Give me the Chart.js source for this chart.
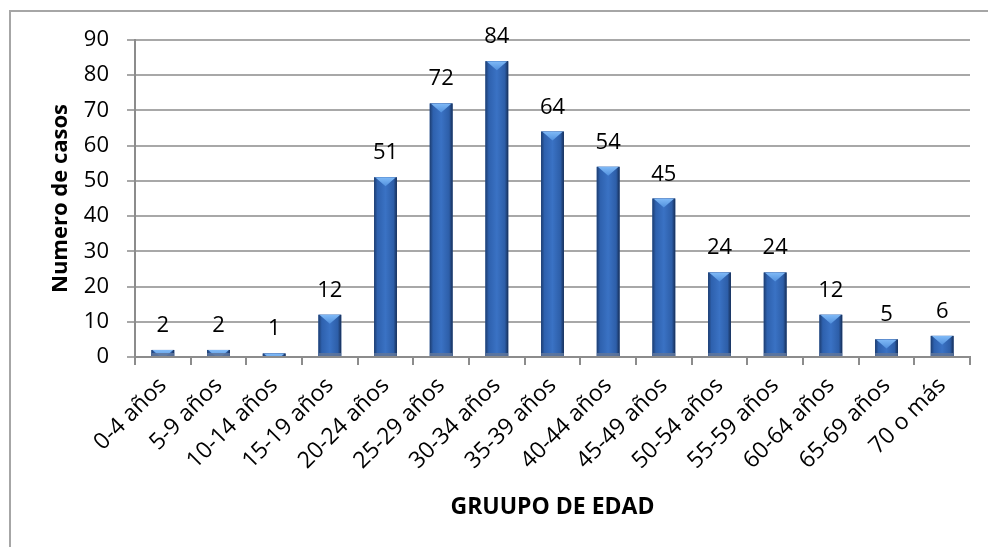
<!DOCTYPE html>
<html>
<head>
<meta charset="utf-8">
<script src="https://cdn.jsdelivr.net/npm/chart.js@4.4.1/dist/chart.umd.min.js"></script>
<style>
  html, body { margin: 0; padding: 0; background: #fff; }
  #wrap { width: 988px; height: 547px; }
</style>
</head>
<body>
<div id="wrap"><canvas id="edadChart" width="988" height="547"></canvas></div>
<script>
// Datos
const grupos = ["0-4 años", "5-9 años", "10-14 años", "15-19 años", "20-24 años", "25-29 años",
  "30-34 años", "35-39 años", "40-44 años", "45-49 años", "50-54 años", "55-59 años",
  "60-64 años", "65-69 años", "70 o más"];
const casos = [2, 2, 1, 12, 51, 72, 84, 64, 54, 45, 24, 24, 12, 5, 6];
const ejeYMin = 0;
const ejeYMax = 90;
const ejeYPaso = 10;

const fuente = "'Open Sans', 'DejaVu Sans', sans-serif";

// Marco exterior
const marcoPlugin = {
  id: "marco",
  beforeDraw(chart) {
    const ctx = chart.ctx;
    ctx.save();
    ctx.strokeStyle = "#a6a6a6";
    ctx.lineWidth = 2;
    ctx.strokeRect(10, 11, 1000, 600);
    ctx.restore();
  }
};

// Barras con bisel y etiquetas de valor
const biselPlugin = {
  id: "bisel",
  afterDatasetsDraw(chart) {
    const ctx = chart.ctx;
    const meta = chart.getDatasetMeta(0);
    meta.data.forEach((bar, i) => {
      const x0 = bar.x - bar.width / 2;
      const x1 = bar.x + bar.width / 2;
      const top = bar.y;
      const bot = bar.base;
      const h = bot - top;
      ctx.save();
      const g = ctx.createLinearGradient(x0, 0, x1, 0);
      g.addColorStop(0, "#1d3d70");
      g.addColorStop(0.15, "#2e61ae");
      g.addColorStop(0.5, "#3a72c4");
      g.addColorStop(0.85, "#2d5ea8");
      g.addColorStop(1, "#162e57");
      ctx.fillStyle = g;
      ctx.fillRect(x0, top, x1 - x0, h);

      ctx.beginPath();
      ctx.rect(x0, top, x1 - x0, h);
      ctx.clip();
      // bisel superior
      const b = 9;
      const gt = ctx.createLinearGradient(0, top, 0, top + b);
      gt.addColorStop(0, "#80baf7");
      gt.addColorStop(1, "#5190dd");
      ctx.fillStyle = gt;
      ctx.beginPath();
      ctx.moveTo(x0 + 1, top);
      ctx.lineTo(x1 - 1, top);
      ctx.lineTo(bar.x, top + b);
      ctx.closePath();
      ctx.fill();
      // borde inferior
      if (h > 6) {
        ctx.fillStyle = "rgba(95,118,155,0.85)";
        ctx.fillRect(x0, bot - 3, x1 - x0, 3);
      }
      ctx.restore();

      // etiqueta
      ctx.save();
      ctx.font = "22px " + fuente;
      ctx.fillStyle = "#000";
      ctx.textAlign = "center";
      ctx.textBaseline = "alphabetic";
      ctx.fillText(String(casos[i]), bar.x, top - 18);
      ctx.restore();
    });
  }
};

new Chart(document.getElementById("edadChart"), {
  type: "bar",
  data: {
    labels: grupos,
    datasets: [
      {
        data: casos,
        backgroundColor: "#2f63ae",
        borderWidth: 0,
        barPercentage: 0.41,
        categoryPercentage: 1.0
      }
    ]
  },
  options: {
    responsive: false,
    animation: false,
    layout: { padding: { left: 0, top: 40, right: 18, bottom: 0 } },
    plugins: {
      legend: { display: false },
      tooltip: { enabled: false }
    },
    scales: {
      x: {
        grid: {
          display: true,
          drawOnChartArea: false,
          drawTicks: true,
          tickLength: 8,
          color: "#8c8c8c",
          lineWidth: 2
        },
        border: { display: true, color: "#8c8c8c", width: 2 },
        ticks: {
          color: "#000",
          font: { family: fuente, size: 23 },
          maxRotation: 45,
          minRotation: 45,
          autoSkip: false,
          padding: 7
        },
        title: {
          display: true,
          text: "GRUUPO DE EDAD",
          color: "#000",
          font: { family: fuente, size: 23, weight: "bold" },
          padding: { top: 0, bottom: 26 }
        },
        afterFit(scale) { scale.height = 190; }
      },
      y: {
        min: ejeYMin,
        max: ejeYMax,
        grid: {
          color: "#a8a8a8",
          lineWidth: 2,
          tickLength: 8
        },
        border: { display: true, color: "#8c8c8c", width: 2 },
        ticks: {
          stepSize: ejeYPaso,
          color: "#000",
          font: { family: fuente, size: 22 },
          padding: 18
        },
        title: {
          display: true,
          text: "Numero de casos",
          color: "#000",
          font: { family: fuente, size: 22, weight: "bold" },
          padding: { top: 48, bottom: 0 }
        },
        afterFit(scale) { scale.width = 135; }
      }
    }
  },
  plugins: [marcoPlugin, biselPlugin]
});
</script>
</body>
</html>
